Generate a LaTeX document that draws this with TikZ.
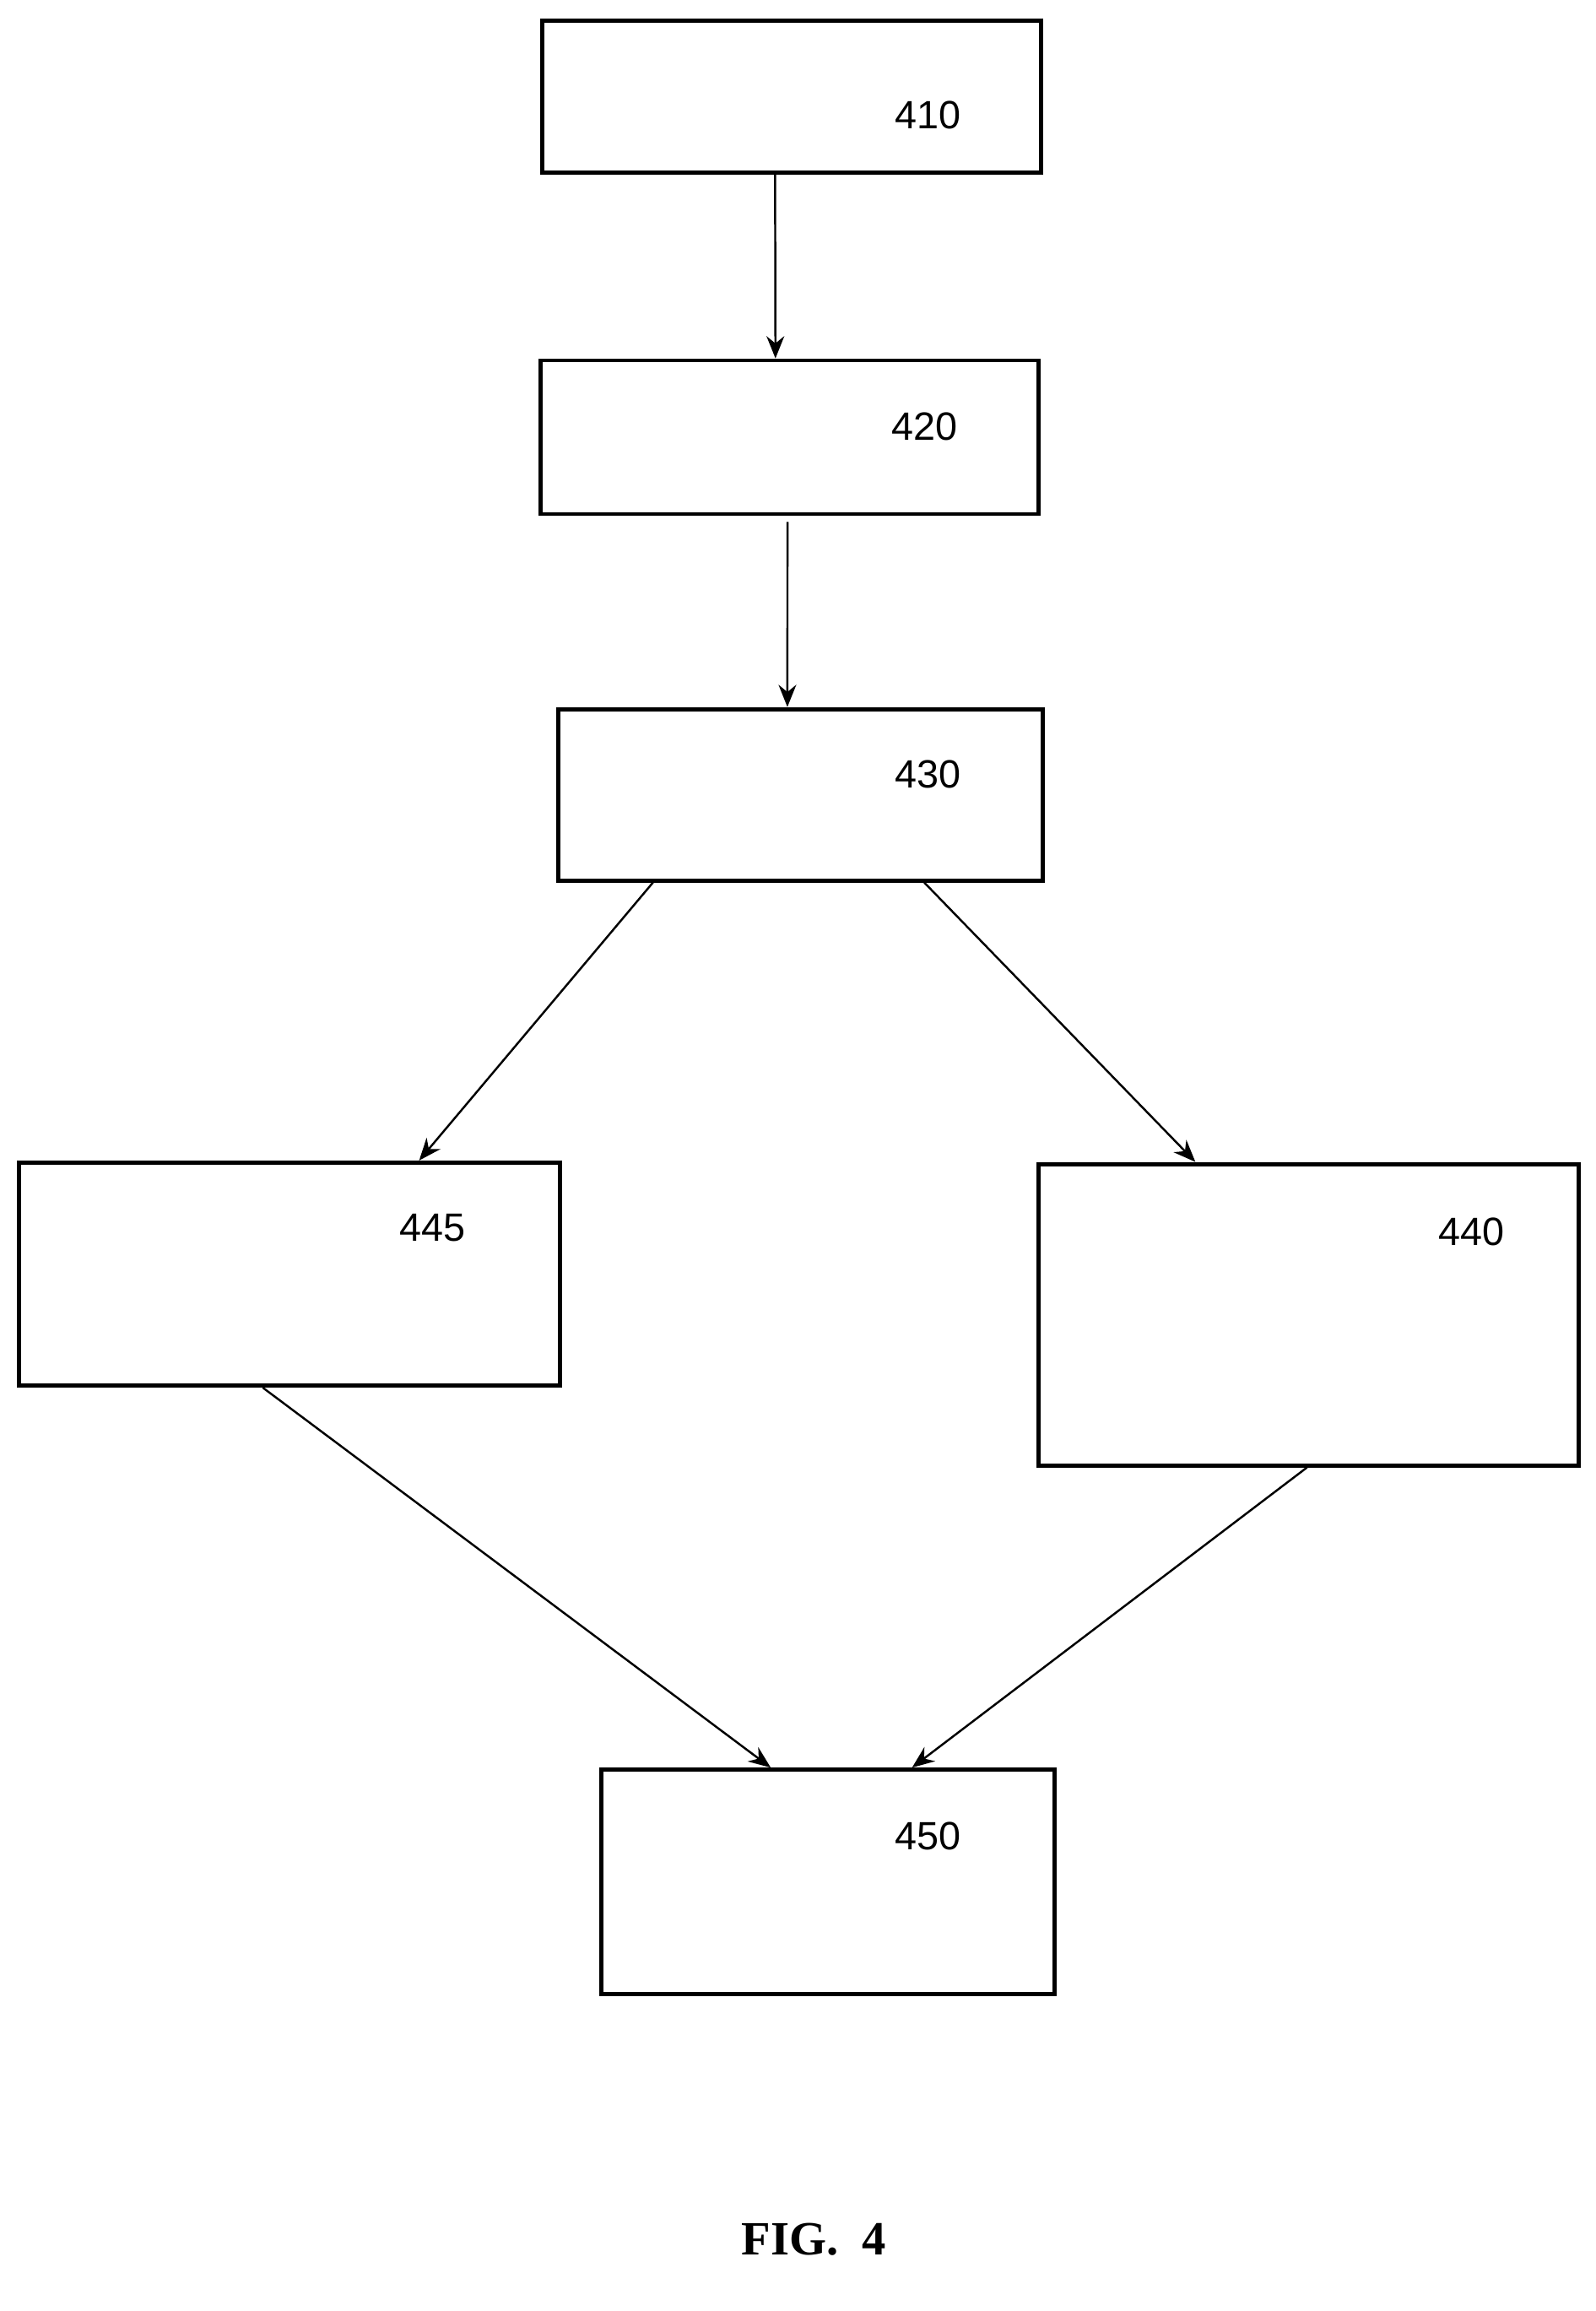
\documentclass[tikz,border=0pt]{standalone}
\usepackage{fontspec}
\setmainfont{Liberation Sans}
\newfontfamily\figfont{Liberation Serif}
\usetikzlibrary{calc,arrows.meta}
\begin{document}
\begin{tikzpicture}[x=0.05cm,y=-0.05cm,
  box/.style={draw,line width=4pt,inner sep=0pt},
  lab/.style={font=\fontsize{38}{40}\selectfont,inner sep=0pt},
  arr/.style={line width=2pt,-{Stealth[length=0.75cm,width=0.6cm]}}]
\useasboundingbox (0,0) rectangle (1080,1564.5);
\node[box,minimum width=16.9cm,minimum height=5.15cm] (n410) at (536,65.5) {};
\node[box,minimum width=16.85cm,minimum height=5.2cm] (n420) at (534.5,296) {};
\node[box,minimum width=16.4cm,minimum height=5.8cm] (n430) at (542,538) {};
\node[box,minimum width=18.3cm,minimum height=7.55cm] (n445) at (196,862.5) {};
\node[box,minimum width=18.3cm,minimum height=10.2cm] (n440) at (886,890) {};
\node[box,minimum width=15.35cm,minimum height=7.6cm] (n450) at (560.5,1274) {};
\node[lab] (l410) at (628,78) {410};
\node[lab] (l420) at (626,289) {420};
\node[lab] (l430) at (628,524) {430};
\node[lab] (l445) at (293,831) {445};
\node[lab] (l440) at (996,834) {440};
\node[lab] (l450) at (628,1243) {450};
\node[font=\figfont\bfseries\fontsize{46}{48}\selectfont,inner sep=0pt] (fig) at (551,1516) {FIG.\ \ 4};
\draw[arr] ($(n410.south west)!0.467!(n410.south east)$) -- ($(n420.north west)!0.472!(n420.north east)$);
\draw[arr,shorten <=0.2cm] ($(n420.south west)!0.496!(n420.south east)$) -- ($(n430.north west)!0.473!(n430.north east)$);
\draw[arr] ($(n430.south west)!0.198!(n430.south east)$) -- ($(n445.north west)!0.738!(n445.north east)$);
\draw[arr] ($(n430.south west)!0.753!(n430.south east)$) -- ($(n440.north west)!0.292!(n440.north east)$);
\draw[arr] ($(n445.south west)!0.451!(n445.south east)$) -- ($(n450.north west)!0.375!(n450.north east)$);
\draw[arr] ($(n440.south west)!0.497!(n440.south east)$) -- ($(n450.north west)!0.684!(n450.north east)$);
\end{tikzpicture}
\end{document}
